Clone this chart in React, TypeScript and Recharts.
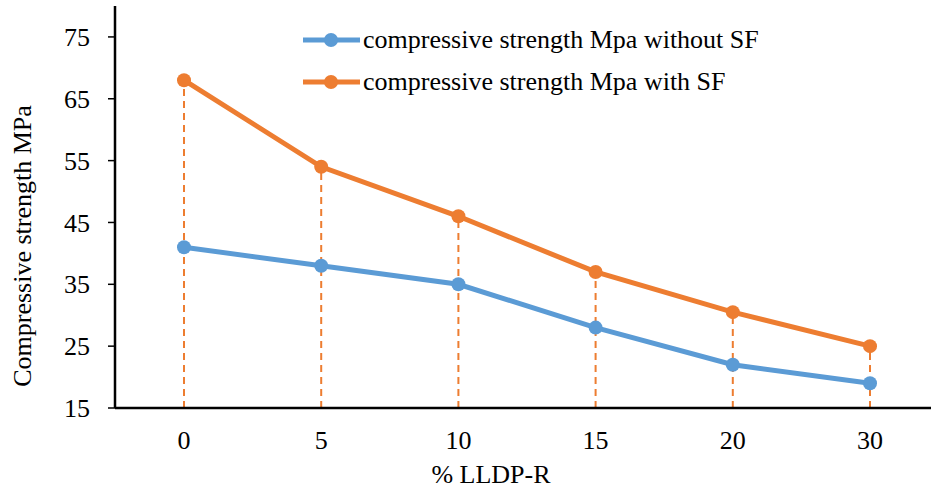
import React from "react";
import { Line, LineChart, ReferenceLine, XAxis, YAxis } from "recharts";

const lldpe = ["0", "5", "10", "15", "20", "30"];
const withoutSF = [41, 38, 35, 28, 22, 19];
const withSF = [68, 54, 46, 37, 30.5, 25];
const yTicks = [15, 25, 35, 45, 55, 65, 75];

const BLUE = "#5B9BD5";
const ORANGE = "#ED7D31";
const FONT = "'Liberation Serif', 'Times New Roman', serif";
const FS = 26;

const data = lldpe.map((p, i) => ({
  p,
  without: withoutSF[i],
  with: withSF[i],
}));

const legendItems = [
  { label: "compressive strength Mpa without SF", color: BLUE },
  { label: "compressive strength Mpa with SF", color: ORANGE },
];

function LegendBox() {
  return (
    <div
      style={{
        position: "absolute",
        left: 302,
        top: 19,
        fontFamily: FONT,
        fontSize: FS,
        color: "#000",
        lineHeight: "42px",
      }}
    >
      {legendItems.map((it) => (
        <div key={it.label} style={{ display: "flex", alignItems: "center", height: 42 }}>
          <svg width={59} height={16} style={{ marginRight: 2 }}>
            <line x1={1} y1={8} x2={58} y2={8} stroke={it.color} strokeWidth={5} />
            <circle cx={29} cy={8} r={7} fill={it.color} />
          </svg>
          <span>{it.label}</span>
        </div>
      ))}
    </div>
  );
}

const XTick = (props: any) => (
  <text x={props.x} y={props.y} dy="0.71em" textAnchor="middle" fontFamily={FONT} fontSize={FS} fill="#000">
    {props.payload.value}
  </text>
);

const YTick = (props: any) => (
  <text x={props.x} y={props.y} dy="0.35em" textAnchor="end" fontFamily={FONT} fontSize={FS} fill="#000">
    {props.payload.value}
  </text>
);

export default function App() {
  return (
    <div
      style={{
        position: "absolute",
        left: 0,
        top: 0,
        width: 931,
        height: 493,
        background: "#fff",
        overflow: "hidden",
      }}
    >
      <LineChart
        width={931}
        height={493}
        data={data}
        margin={{ top: 6, right: -8, bottom: 55, left: 0 }}
      >
        <XAxis
          dataKey="p"
          height={30}
          padding={{ left: 69, right: 69 }}
          tickLine={false}
          tickSize={0}
          tickMargin={23}
          axisLine={{ stroke: "#000", strokeWidth: 2.5 }}
          tick={<XTick />}
          label={{
            content: () => (
              <text x={491} y={483} textAnchor="middle" fontFamily={FONT} fontSize={FS} fill="#000">
                % LLDP-R
              </text>
            ),
          }}
        />
        <YAxis
          width={115}
          domain={[15, 80]}
          ticks={yTicks}
          interval={0}
          tickSize={7}
          tickMargin={18}
          tickLine={{ stroke: "#000", strokeWidth: 1.5 }}
          axisLine={{ stroke: "#000", strokeWidth: 2.5 }}
          tick={<YTick />}
          label={{
            content: () => (
              <text
                x={31}
                y={246}
                transform="rotate(-90 31 246)"
                textAnchor="middle"
                fontFamily={FONT}
                fontSize={FS}
                fill="#000"
              >
                Compressive strength MPa
              </text>
            ),
          }}
        />
        {data.map((d) => (
          <ReferenceLine
            key={d.p}
            segment={[
              { x: d.p, y: 15 },
              { x: d.p, y: d.with },
            ]}
            stroke={ORANGE}
            strokeWidth={2}
            strokeDasharray="7 5"
            ifOverflow="visible"
          />
        ))}
        <Line
          type="linear"
          dataKey="without"
          stroke={BLUE}
          strokeWidth={5}
          dot={{ r: 7, fill: BLUE, stroke: BLUE, strokeWidth: 0 }}
          activeDot={false}
          isAnimationActive={false}
        />
        <Line
          type="linear"
          dataKey="with"
          stroke={ORANGE}
          strokeWidth={5}
          dot={{ r: 7, fill: ORANGE, stroke: ORANGE, strokeWidth: 0 }}
          activeDot={false}
          isAnimationActive={false}
        />
      </LineChart>
      <LegendBox />
    </div>
  );
}
